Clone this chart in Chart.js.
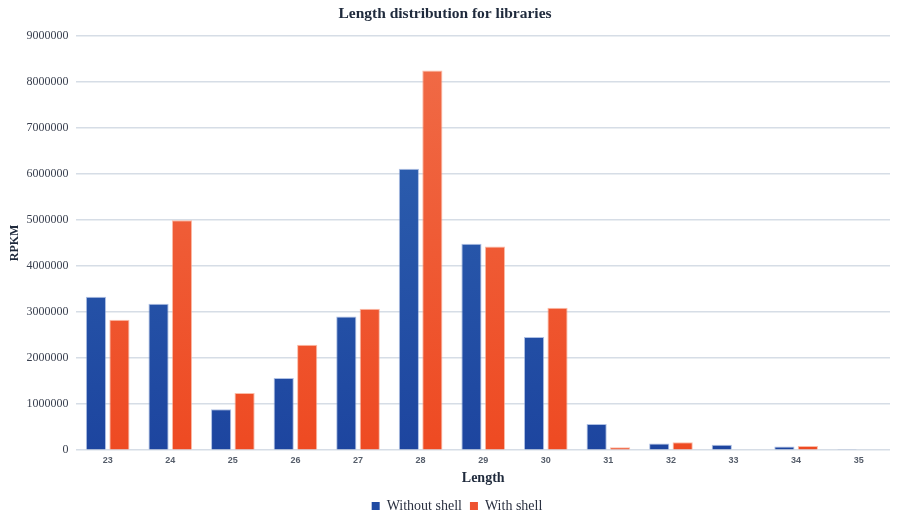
<!DOCTYPE html>
<html>
<head>
<meta charset="utf-8">
<script src="https://cdn.jsdelivr.net/npm/chart.js@4/dist/chart.umd.min.js"></script>
<style>
html,body{margin:0;padding:0;background:#fff;}
#wrap{width:900px;height:517px;position:relative;}
</style>
</head>
<body>
<div id="wrap"><canvas id="c" width="900" height="517"></canvas></div>
<script>
const categories = ['23','24','25','26','27','28','29','30','31','32','33','34','35'];
const withoutShell = [3330000,3180000,890000,1570000,2900000,6110000,4480000,2460000,570000,145000,120000,80000,20000];
const withShell = [2830000,4990000,1240000,2290000,3070000,8240000,4420000,3090000,65000,170000,0,90000,0];
const yTicks = [0,1000000,2000000,3000000,4000000,5000000,6000000,7000000,8000000,9000000];

function grad(ctx, top, bottom){
  const chart = ctx.chart;
  const a = chart.chartArea;
  if(!a) return bottom;
  const g = chart.ctx.createLinearGradient(0, a.top, 0, a.bottom);
  g.addColorStop(0, top);
  g.addColorStop(1, bottom);
  return g;
}

const legendShift = {
  id:'legendShift',
  afterLayout(chart){
    if(chart.legend){ chart.legend.left += 12; chart.legend.right += 12; }
  }
};

new Chart(document.getElementById('c'), {
  type: 'bar',
  data: {
    labels: categories,
    datasets: [
      {label:'Without shell', data: withoutShell,
       backgroundColor: ctx => grad(ctx,'#3166b3','#1d459f'),
       borderColor:'rgba(120,150,210,0.6)', borderWidth:1,
       categoryPercentage:0.75, barPercentage:0.86},
      {label:'With shell', data: withShell,
       backgroundColor: ctx => grad(ctx,'#f06c48','#ee4a22'),
       borderColor:'rgba(250,160,130,0.7)', borderWidth:1,
       categoryPercentage:0.75, barPercentage:0.86}
    ]
  },
  plugins:[legendShift],
  options: {
    responsive:false,
    animation:false,
    layout:{padding:{left:0,right:10,top:3,bottom:-6}},
    plugins:{
      title:{display:true,text:'Length distribution for libraries',
        font:{family:'Liberation Serif',size:15.5,weight:'bold'},color:'#1f2a3c',
        padding:{top:2,bottom:12}},
      legend:{position:'bottom',
        labels:{boxWidth:8,boxHeight:8,padding:8,color:'#2a3040',
          font:{family:'Liberation Serif',size:14},
          generateLabels: chart => chart.data.datasets.map((d,i)=>({
            text:d.label, fillStyle: i===0?'#1f4aa3':'#ee5230', strokeStyle:'rgba(0,0,0,0)', lineWidth:0,
            datasetIndex:i, fontColor:'#2a3040'}))
        }},
      tooltip:{enabled:false}
    },
    scales:{
      x:{
        grid:{display:false,drawTicks:false},
        border:{display:false},
        ticks:{color:'#555d6a',font:{family:'Liberation Sans',size:9,weight:'bold',lineHeight:1.0},padding:6},
        title:{display:true,text:'Length',color:'#1f2a3c',
          font:{family:'Liberation Serif',size:14,weight:'bold',lineHeight:1.0},padding:{top:0,bottom:5.8}}
      },
      y:{
        min:0,max:9000000,
        afterBuildTicks: axis => { axis.ticks = yTicks.map(v=>({value:v})); },
        ticks:{callback:v=>String(v),color:'#3a4150',
          font:{family:'Liberation Serif',size:12},padding:8},
        grid:{color:'#d6dde6',lineWidth:1.6,drawTicks:false},
        border:{display:false},
        title:{display:true,text:'RPKM',color:'#1f2a3c',
          font:{family:'Liberation Serif',size:12,weight:'bold'},padding:{top:8,bottom:-4}}
      }
    }
  }
});
</script>
</body>
</html>
